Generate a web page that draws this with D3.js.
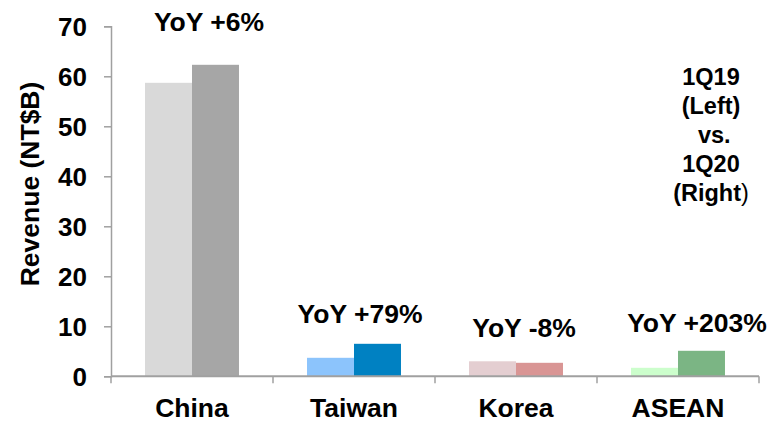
<!DOCTYPE html>
<html><head><meta charset="utf-8">
<script src="https://cdn.jsdelivr.net/npm/d3@7"></script>
<style>body{margin:0;background:#fff}svg{display:block}text{font-family:"Liberation Sans",Arial,sans-serif;font-weight:bold;fill:#000}</style>
</head><body><svg id="c" width="782" height="422"></svg>
<script>
const categories = ["China", "Taiwan", "Korea", "ASEAN"];
const q119 = [58.7, 3.7, 3.0, 1.7];
const q120 = [62.3, 6.5, 2.7, 5.1];
const yoyLabels = ["YoY +6%", "YoY +79%", "YoY -8%", "YoY +203%"];
const yTicks = [0, 10, 20, 30, 40, 50, 60, 70];
const colorsLight = ["#d9d9d9", "#8cc4fc", "#e4ced1", "#ccfecc"];
const colorsDark = ["#a6a6a6", "#0081c2", "#d99594", "#7bb584"];

// annotation layout (not data)
const labelLevel = [69.1, 10.7, 7.8, 8.9];
const labelDx = [17, 6, 8, 19];

const svg = d3.select("#c");
const x = d3.scaleBand().domain(categories).range([111, 759]).padding(0);
const y = d3.scaleLinear().domain([0, 70]).range([376.3, 26.3]);
const bw = x.bandwidth() * 0.29;

const axisColor = "#a0a0a0";
categories.forEach((c, i) => {
  const cx = x(c) + x.bandwidth() / 2;
  svg.append("rect").attr("x", cx - bw).attr("width", bw)
    .attr("y", y(q119[i])).attr("height", y(0) - y(q119[i])).attr("fill", colorsLight[i]);
  svg.append("rect").attr("x", cx).attr("width", bw)
    .attr("y", y(q120[i])).attr("height", y(0) - y(q120[i])).attr("fill", colorsDark[i]);
  svg.append("text").attr("x", cx + labelDx[i]).attr("y", y(labelLevel[i]))
    .attr("text-anchor", "middle").style("font-size", "26.5px").text(yoyLabels[i]);
});

const ya = svg.append("g").attr("transform", "translate(111,0)")
  .call(d3.axisLeft(y).tickValues(yTicks).tickSize(7).tickPadding(17).tickFormat(d3.format("d")));
ya.select(".domain").attr("stroke", axisColor).attr("stroke-width", 1.5);
ya.selectAll(".tick line").attr("stroke", axisColor).attr("stroke-width", 1.5);
ya.selectAll(".tick text").style("font-size", "26px").style("font-family", '"Liberation Sans",Arial,sans-serif').style("font-weight", "bold").attr("fill", "#000").attr("dy", "0.35em");

const xa = svg.append("g").attr("transform", "translate(0," + y(0) + ")");
xa.append("line").attr("x1", 111).attr("x2", 759).attr("stroke", axisColor).attr("stroke-width", 2);
const bounds = categories.map(c => x(c)).concat([x(categories[categories.length - 1]) + x.bandwidth()]);
xa.selectAll("line.tk").data(bounds).enter().append("line").attr("class", "tk")
  .attr("x1", d => d).attr("x2", d => d).attr("y1", 0).attr("y2", 7)
  .attr("stroke", axisColor).attr("stroke-width", 1.5);
svg.selectAll("text.cat").data(categories).enter().append("text").attr("class", "cat")
  .attr("x", d => x(d) + x.bandwidth() / 2).attr("y", 417)
  .attr("text-anchor", "middle").style("font-size", "26.5px").text(d => d);

svg.append("text").attr("transform", "translate(39,184) rotate(-90)")
  .attr("text-anchor", "middle").style("font-size", "26.5px").text("Revenue (NT$B)");

const note = svg.append("text").attr("text-anchor", "middle").style("font-size", "23.5px");
const lines = ["1Q19", "(Left)", " vs.", "1Q20"];
lines.forEach((t, i) => {
  note.append("tspan").attr("x", 711).attr("y", 85 + i * 29).attr("xml:space", "preserve").text(t);
});
const last = note.append("tspan").attr("x", 711).attr("y", 85 + 4 * 29);
last.append("tspan").text("(Right");
last.append("tspan").style("font-weight", "normal").text(")");
</script></body></html>
